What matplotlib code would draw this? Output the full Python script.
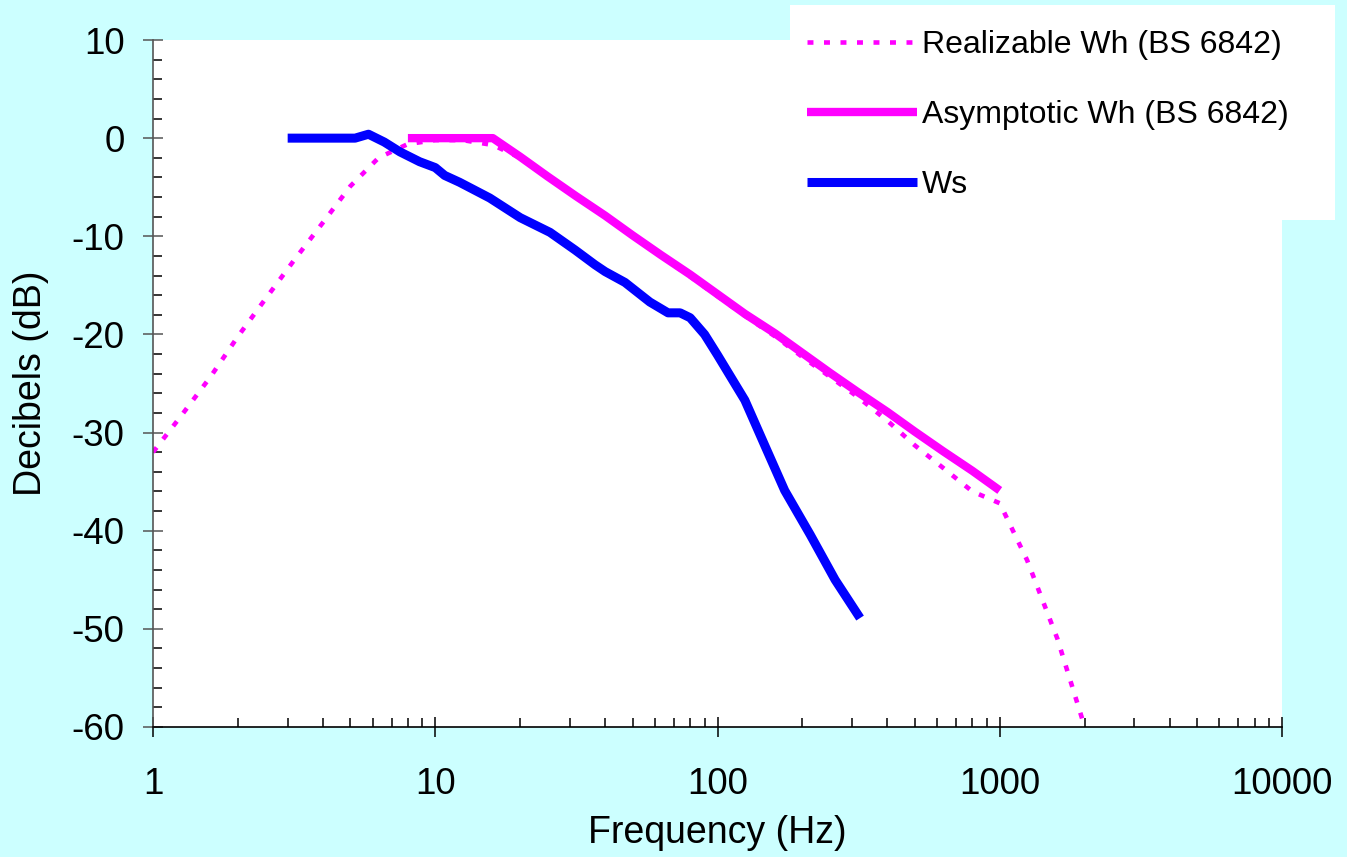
import numpy as np
import matplotlib.pyplot as plt
from matplotlib.patches import Rectangle
from matplotlib.ticker import MultipleLocator, LogLocator, NullFormatter, FixedLocator

plt.rcParams['font.family'] = ['Liberation Sans', 'DejaVu Sans']
plt.rcParams['axes.unicode_minus'] = False

# Realizable Wh (BS 6842), dotted
real_f = [1, 1.25, 1.6, 2, 2.5, 3.15, 4, 5, 6.3, 8, 10, 12.5, 16, 20, 25, 31.5,
          40, 50, 63, 80, 100, 125, 160, 200, 250, 315, 400, 500, 630, 800,
          1000, 1250, 1600, 2000]
real_db = [-32, -28.4, -24.3, -20.2, -16.4, -12.5, -8.6, -4.9, -2.0, -0.6, -0.2,
           -0.2, -0.7, -2.0, -4.0, -6.0, -8.0, -10.0, -12.0, -14.1, -16.1, -18.1,
           -20.2, -22.3, -24.3, -26.4, -28.8, -31.3, -33.6, -36.0, -37.2, -43.0,
           -51.0, -60.0]

# Asymptotic Wh (BS 6842)
asym_f = [8, 16, 20, 25, 31.5, 40, 50, 63, 80, 100, 125, 160, 200, 250, 315,
          400, 500, 630, 800, 1000]
asym_db = [0, 0, -1.9, -3.9, -5.9, -7.9, -9.9, -11.9, -13.9, -15.9, -17.9,
           -19.9, -21.9, -23.9, -25.9, -27.9, -29.9, -31.9, -33.9, -35.9]

# Ws
ws_f = [3, 5.2, 5.8, 6.6, 7.5, 8.8, 10, 10.8, 12.2, 15.6, 20, 25.5, 31.3, 36.8,
        40, 47, 57.6, 66.8, 73.7, 80, 90, 100, 125, 147, 173, 213, 261, 320]
ws_db = [0, 0, 0.4, -0.4, -1.4, -2.4, -3.0, -3.8, -4.5, -6.1, -8.1, -9.6, -11.4,
         -12.9, -13.6, -14.7, -16.7, -17.8, -17.8, -18.3, -20.0, -22.1, -26.7,
         -31.3, -35.9, -40.4, -45.0, -48.9]

W, H = 1347, 857
fig = plt.figure(figsize=(W / 100, H / 100), dpi=100, facecolor='#CCFFFF')
ax = fig.add_axes([153 / W, 1 - 727 / H, (1282 - 153) / W, (727 - 40) / H])
ax.set_facecolor('white')

magenta = '#FF00FF'
l1, = ax.plot(real_f, real_db, color=magenta, lw=3.3, linestyle=(0, (1.3, 2.3)),
              dash_capstyle='butt', label='Realizable Wh (BS 6842)')
l2, = ax.plot(asym_f, asym_db, color=magenta, lw=6, solid_capstyle='butt',
              label='Asymptotic Wh (BS 6842)')
l3, = ax.plot(ws_f, ws_db, color='#0000FF', lw=6.5, solid_capstyle='butt',
              label='Ws')

ax.set_xscale('log')
ax.set_xlim(1, 10000)
ax.set_ylim(-60, 10)
ax.xaxis.set_major_locator(FixedLocator([1, 10, 100, 1000, 10000]))
ax.set_xticklabels(['1', '10', '100', '1000', '10000'])
ax.xaxis.set_minor_locator(LogLocator(base=10, subs=np.arange(2, 10)))
ax.xaxis.set_minor_formatter(NullFormatter())
ax.yaxis.set_major_locator(MultipleLocator(10))
ax.yaxis.set_minor_locator(MultipleLocator(2))

for s in ['top', 'right']:
    ax.spines[s].set_visible(False)
ax.spines['left'].set_color('#555555')
ax.spines['bottom'].set_color('black')
ax.spines['left'].set_linewidth(1.2)
ax.spines['bottom'].set_linewidth(1.2)

ax.tick_params(axis='both', which='major', direction='inout', length=15, width=1.1,
               labelsize=26.5)
ax.tick_params(axis='both', which='minor', direction='in', length=6.5, width=1.1)
ax.tick_params(axis='y', which='major', pad=13, colors='#555555', labelcolor='black')
ax.tick_params(axis='x', which='major', pad=21)

ax.set_xlabel('Frequency (Hz)', fontsize=27, labelpad=10)
ax.set_ylabel('Decibels (dB)', fontsize=27, labelpad=16.5)

# white box behind the legend
fig.patches.append(Rectangle((790 / W, 1 - 220 / H), (1335 - 790) / W, (220 - 5) / H,
                             transform=fig.transFigure, facecolor='white',
                             edgecolor='none', zorder=2))
leg = fig.legend(handles=[l1, l2, l3], loc='upper left',
                 bbox_to_anchor=(807 / W, 1 - 30 / H), frameon=False,
                 fontsize=23, handlelength=3.45, handletextpad=0.15,
                 labelspacing=1.25, borderpad=0, borderaxespad=0)
leg.set_zorder(3)

fig.savefig('out.png', dpi=100, facecolor=fig.get_facecolor())
